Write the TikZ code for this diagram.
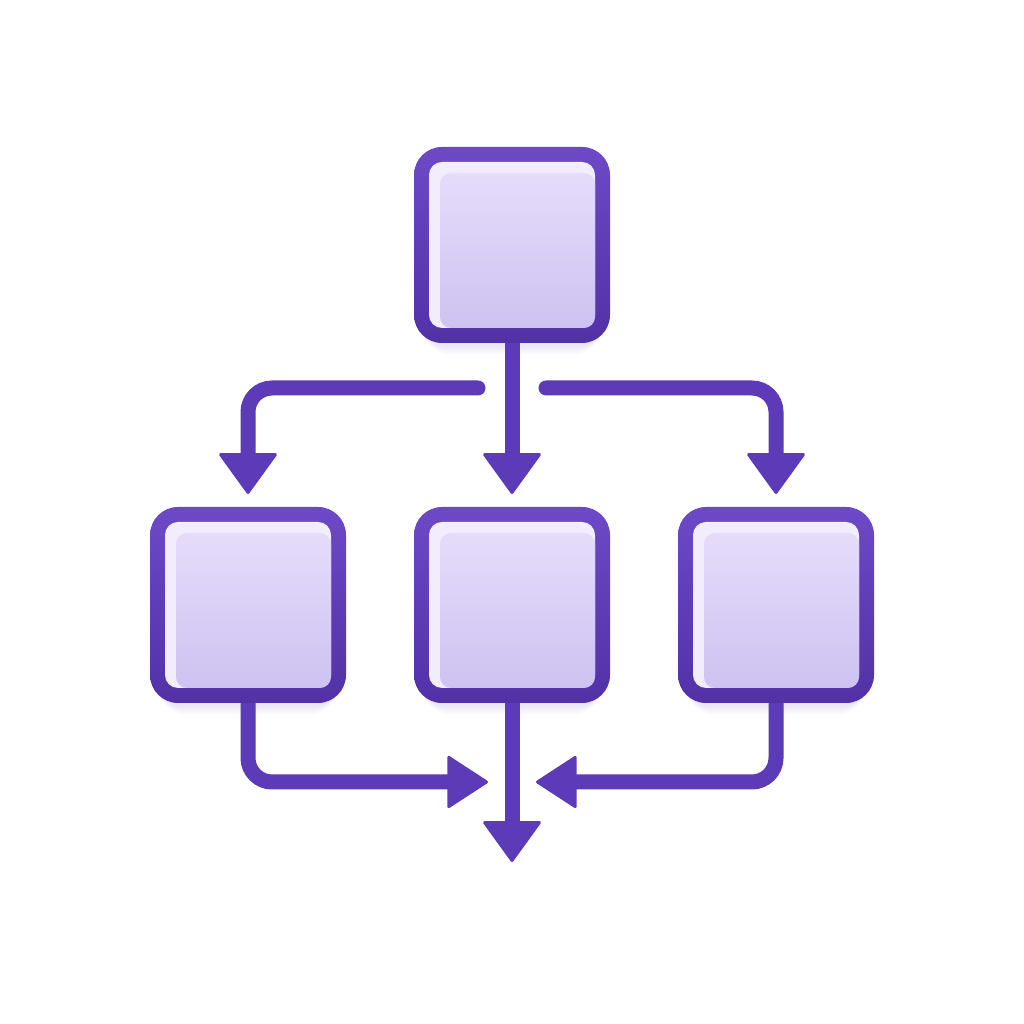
\documentclass[tikz,border=0pt]{standalone}
\usetikzlibrary{arrows.meta,calc}
\definecolor{bordtop}{HTML}{6D49C7}
\definecolor{bordbot}{HTML}{5231A7}
\definecolor{conncol}{HTML}{5D3AB7}
\definecolor{hlcol}{HTML}{F2EDFD}
\definecolor{filltop}{HTML}{E5DCFB}
\definecolor{fillbot}{HTML}{CEC2F1}
\definecolor{shadowcol}{HTML}{9C8BD6}
\begin{document}
\begin{tikzpicture}[x=1pt,y=1pt,
  box/.style={minimum width=196pt, minimum height=196pt, inner sep=0pt,
    rounded corners=28pt, top color=bordtop, bottom color=bordbot,
    path picture={
      \fill[hlcol, rounded corners=13pt]
        ($(path picture bounding box.north west)+(15,-15)$) rectangle
        ($(path picture bounding box.south east)+(-15,15)$);
      \shade[top color=filltop, bottom color=fillbot, rounded corners=11pt]
        ($(path picture bounding box.north west)+(26,-26)$) rectangle
        ($(path picture bounding box.south east)+(-15,15)$);
    }},
  conn/.style={draw=conncol, line width=15pt, rounded corners=24pt},
  tipv/.style={-{Triangle[length=42pt,width=60pt,round,line width=3pt]}},
  tiph/.style={-{Triangle[length=42pt,width=54pt,round,line width=3pt]}}
]
\fill[white] (0,0) rectangle (1024,1024);
\useasboundingbox (0,0) rectangle (1024,1024);
% soft shadows
\foreach \px/\py in {512/779,248/419,512/419,776/419}{
  \foreach \k in {1,...,6}{
    \fill[shadowcol, opacity=0.03, rounded corners=30pt]
      (\px-96+\k,\py-100-1.6*\k) rectangle (\px+96-\k,\py+80);
  }
}
\node[box] (t) at (512,779) {};
\node[box] (l) at (248,419) {};
\node[box] (c) at (512,419) {};
\node[box] (r) at (776,419) {};
% coordinates
\coordinate (tl) at (478,636);
\coordinate (tr) at (546,636);
\coordinate (al) at (248,530);
\coordinate (ac) at (512,530);
\coordinate (ar) at (776,530);
\coordinate (bl) at (488,242);
\coordinate (br) at (536,242);
\coordinate (bc) at (512,162);
% connectors
\draw[conn,tipv] (t.south) -- (ac);
\draw[conn,tipv,line cap=round] (tl) -| (al);
\draw[conn,tipv,line cap=round] (tr) -| (ar);
\draw[conn,tiph] (l.south) |- (bl);
\draw[conn,tipv] (c.south) -- (bc);
\draw[conn,tiph] (r.south) |- (br);
\end{tikzpicture}
\end{document}
